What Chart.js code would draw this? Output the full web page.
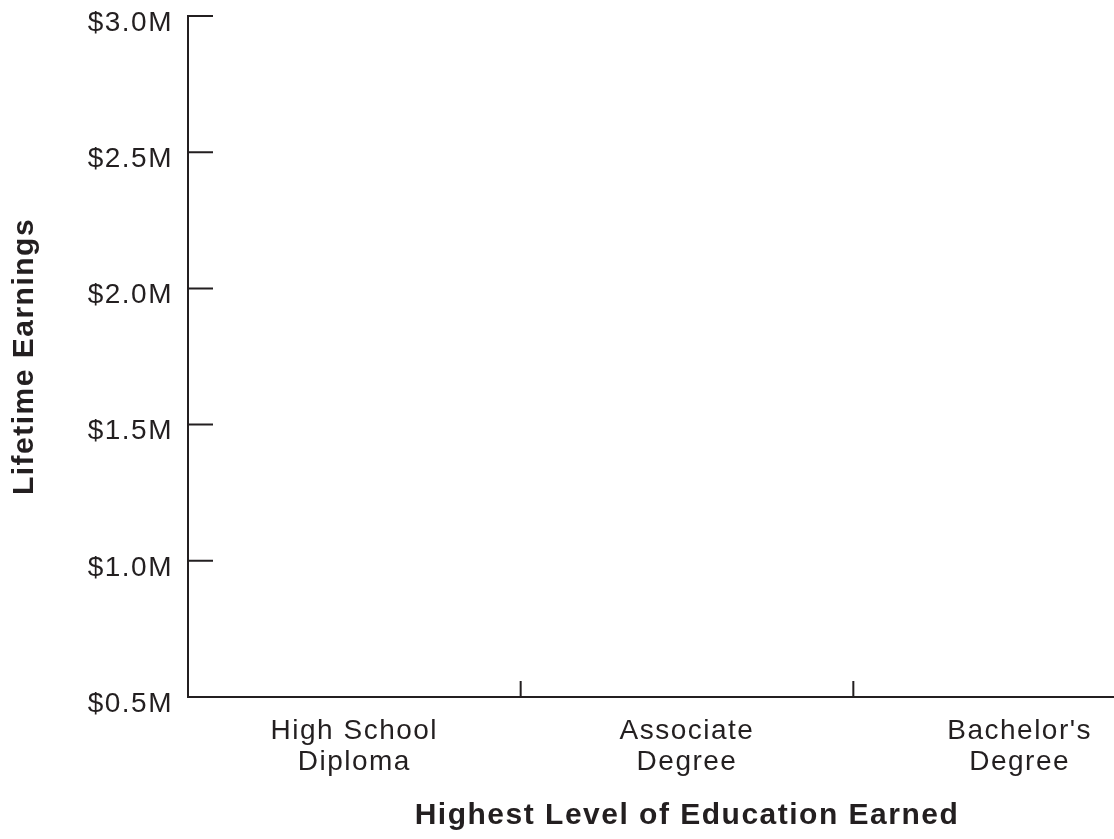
<!DOCTYPE html>
<html>
<head>
<meta charset="utf-8">
<script src="https://cdn.jsdelivr.net/npm/chart.js@4"></script>
<style>
  html, body { margin: 0; padding: 0; background: #ffffff; overflow: hidden; }
  #wrap { position: relative; width: 1186px; height: 839px; }
</style>
</head>
<body>
<div id="wrap"><canvas id="c"></canvas></div>
<script>
// ---- data ----
const categories = [["High School", "Diploma"], ["Associate", "Degree"], ["Bachelor's", "Degree"]];
const lifetimeEarnings = [null, null, null]; // $ millions (no marks shown in reference)
const yMin = 0.5;
const yMax = 3.0;
const yStep = 0.5;
const xTitle = "Highest Level of Education Earned";
const yTitle = "Lifetime Earnings";

// ---- style ----
const INK = '#231f20';
const FONT = '"Liberation Sans", Arial, Helvetica, sans-serif';

const spacingPlugin = {
  id: 'spacing',
  beforeLayout(chart) { chart.ctx.letterSpacing = '1.5px'; },
  beforeDraw(chart) { chart.ctx.letterSpacing = '1.5px'; }
};

const inwardTicks = {
  id: 'inwardTicks',
  afterDraw(chart) {
    const { ctx } = chart;
    const x = chart.scales.x, y = chart.scales.y;
    ctx.save();
    ctx.strokeStyle = INK;
    ctx.lineWidth = 2;
    ctx.beginPath();
    for (let i = 0; i < y.ticks.length; i++) {
      const py = y.getPixelForTick(i);
      ctx.moveTo(x.left - 1, py);
      ctx.lineTo(x.left + 25, py);
    }
    for (let i = 0; i < x.ticks.length - 1; i++) {
      const px = (x.getPixelForTick(i) + x.getPixelForTick(i + 1)) / 2;
      ctx.moveTo(px, y.bottom);
      ctx.lineTo(px, y.bottom - 16);
    }
    ctx.stroke();
    ctx.restore();
  }
};

new Chart(document.getElementById('c'), {
  type: 'bar',
  data: {
    labels: categories,
    datasets: [{ label: 'Lifetime Earnings', data: lifetimeEarnings, backgroundColor: INK }]
  },
  options: {
    responsive: true,
    maintainAspectRatio: false,
    animation: false,
    layout: { padding: { top: 16, right: 0, bottom: 0, left: 0 } },
    plugins: { legend: { display: false }, tooltip: { enabled: false } },
    scales: {
      x: {
        type: 'category',
        offset: true,
        grid: { display: false, drawTicks: false, offset: true },
        border: { display: true, color: INK, width: 2 },
        ticks: {
          color: INK,
          padding: 19,
          maxRotation: 0,
          autoSkip: false,
          font: { family: FONT, size: 28, lineHeight: 1.1 }
        },
        title: {
          display: true,
          text: xTitle,
          color: INK,
          font: { family: FONT, size: 30, weight: 'bold', lineHeight: 1.2 },
          padding: { top: 0, bottom: 5 }
        },
        afterFit(scale) { scale.height = 142; scale.paddingLeft = 0; scale.paddingRight = 0; }
      },
      y: {
        min: yMin,
        max: yMax,
        grid: { display: false, drawTicks: false },
        border: { display: true, color: INK, width: 2 },
        ticks: {
          stepSize: yStep,
          color: INK,
          padding: 15,
          labelOffset: 7,
          font: { family: FONT, size: 28, lineHeight: 1 },
          callback: (v) => '$' + Number(v).toFixed(1) + 'M'
        },
        title: {
          display: true,
          text: yTitle,
          color: INK,
          font: { family: FONT, size: 30, weight: 'bold', lineHeight: 1.2 },
          padding: { top: 7, bottom: 0 }
        },
        afterFit(scale) { scale.width = 188; scale.paddingTop = 0; scale.paddingBottom = 0; }
      }
    }
  },
  plugins: [spacingPlugin, inwardTicks]
});
</script>
</body>
</html>
